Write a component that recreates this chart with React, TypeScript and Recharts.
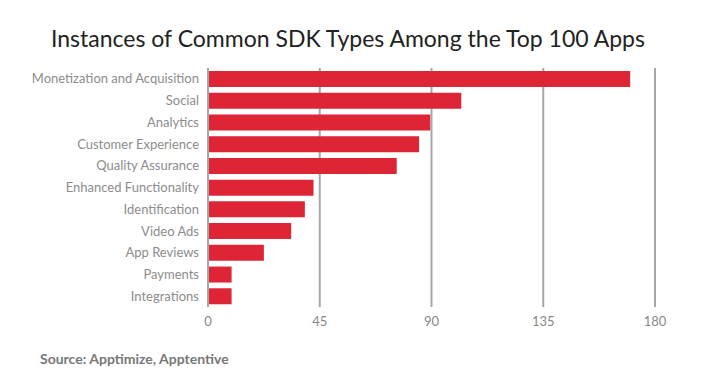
import { BarChart, Bar, XAxis, YAxis, CartesianGrid } from 'recharts'

const categories = [
  'Monetization and Acquisition',
  'Social',
  'Analytics',
  'Customer Experience',
  'Quality Assurance',
  'Enhanced Functionality',
  'Identification',
  'Video Ads',
  'App Reviews',
  'Payments',
  'Integrations',
]

const instances = [170, 102, 89.5, 85, 76, 42.5, 39, 33.5, 22.5, 9.5, 9.5]

const xTicks = [0, 45, 90, 135, 180]

const data = categories.map((name, i) => ({ name, value: instances[i] }))

const FONT = 'Lato, "Open Sans", sans-serif'

export default function App() {
  return (
    <div
      style={{
        position: 'absolute',
        left: 0,
        top: 0,
        width: 722,
        height: 390,
        background: '#fff',
        fontFamily: FONT,
      }}
    >
      <div
        style={{
          position: 'absolute',
          left: 0,
          top: 23,
          width: 696,
          textAlign: 'center',
          fontSize: 23,
          color: '#222',
          lineHeight: '30px',
        }}
      >
        Instances of Common SDK Types Among the Top 100 Apps
      </div>
      <BarChart
        width={722}
        height={390}
        data={data}
        layout="vertical"
        barSize={16}
        margin={{ top: 68, right: 67, bottom: 53, left: 8 }}
      >
        <CartesianGrid horizontal={false} stroke="#a6a6a6" strokeWidth={2} />
        <XAxis
          type="number"
          domain={[0, 180]}
          ticks={xTicks}
          axisLine={false}
          tickLine={false}
          tickMargin={4}
          height={30}
          tick={{ fill: '#888', fontSize: 13, fontFamily: FONT }}
        />
        <YAxis
          type="category"
          dataKey="name"
          width={200}
          axisLine={{ stroke: '#a6a6a6', strokeWidth: 2 }}
          tickLine={false}
          tickMargin={3}
          interval={0}
          tick={{ fill: '#8c8c8c', fontSize: 13, fontFamily: FONT }}
        />
        <Bar dataKey="value" fill="#dd2536" isAnimationActive={false} />
      </BarChart>
      <div
        style={{
          position: 'absolute',
          left: 40,
          top: 350,
          fontSize: 14,
          fontWeight: 'bold',
          color: '#777',
        }}
      >
        Source: Apptimize, Apptentive
      </div>
    </div>
  )
}
